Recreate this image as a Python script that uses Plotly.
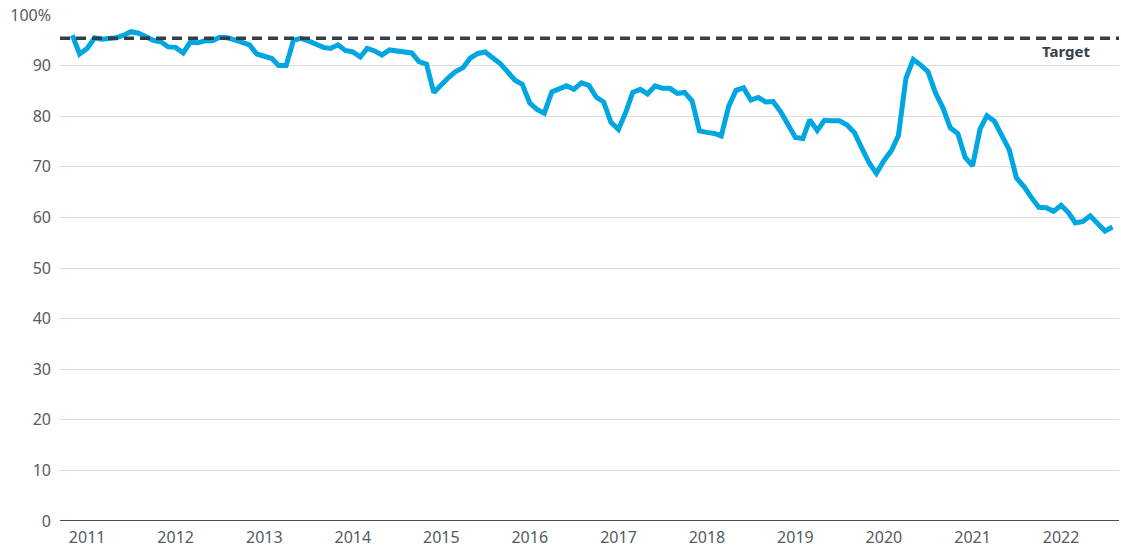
import plotly.graph_objects as go
import pandas as pd

start_month = "2010-11-01"
values = [
    96.0, 92.3, 93.4, 95.5, 95.2, 95.3, 95.5, 96.0, 96.7, 96.4, 95.6, 95.0,
    94.7, 93.7, 93.6, 92.5, 94.6, 94.5, 94.9, 94.9, 95.6, 95.5, 95.1, 94.5,
    94.1, 92.3, 91.9, 91.4, 90.0, 90.0, 95.0, 95.4, 94.9, 94.3, 93.6, 93.4,
    94.1, 93.0, 92.7, 91.7, 93.4, 92.9, 92.1, 93.1, 92.9, 92.9, 92.5, 90.8,
    90.3, 84.7, 86.3, 87.7, 88.8, 89.6, 91.5, 92.4, 92.7, 91.6, 90.4, 88.8,
    87.1, 86.3, 82.6, 81.3, 80.6, 84.8, 85.4, 86.0, 85.3, 86.6, 86.1, 83.8,
    82.8, 78.8, 77.4, 80.9, 84.7, 85.3, 84.4, 86.0, 85.5, 85.5, 84.5, 84.7,
    83.0, 77.1, 76.8, 76.6, 76.1, 82.0, 85.1, 85.6, 83.2, 83.7, 82.8, 82.9,
    80.9, 78.6, 75.8, 75.6, 79.3, 77.2, 79.2, 79.1, 79.1, 78.3, 76.8, 73.8,
    70.8, 68.7, 71.2, 73.2, 76.2, 87.5, 91.2, 90.1, 88.8, 84.6, 81.6, 77.7,
    76.6, 71.9, 70.2, 77.5, 80.1, 79.0, 76.3, 73.4, 67.8, 66.1, 63.9, 62.0,
    61.9, 61.2, 62.4, 60.9, 58.9, 59.2, 60.3, 58.9, 57.3, 58.1,
]
dates = pd.date_range(start_month, periods=len(values), freq="MS")

target_value = 95.4
target_label = "Target"

year_ticks = [f"{y}-01-01" for y in range(2011, 2023)]
year_labels = [str(y) for y in range(2011, 2023)]
y_ticks = list(range(0, 101, 10))
y_labels = [str(v) if v < 100 else "100%" for v in y_ticks]

font_family = "Noto Sans, Open Sans, sans-serif"
tick_color = "#555b61"
dark = "#333f48"

fig = go.Figure()
fig.add_trace(go.Scatter(
    x=dates, y=values, mode="lines",
    line=dict(color="#00a6e0", width=5),
    hoverinfo="skip", showlegend=False,
))

fig.add_shape(type="line", xref="paper", yref="y", x0=0, x1=1,
              y0=target_value, y1=target_value,
              line=dict(color=dark, width=3.5, dash="10px,6px"))

fig.add_annotation(xref="paper", yref="y", x=0.9745, y=92.9,
                   text=f"<b>{target_label}</b>", showarrow=False,
                   xanchor="right", yanchor="middle",
                   font=dict(family=font_family, size=15, color=dark))

fig.update_layout(
    width=1121, height=547,
    margin=dict(l=60, r=2, t=15, b=26),
    plot_bgcolor="white", paper_bgcolor="white",
    font=dict(family=font_family, size=16, color=tick_color),
    xaxis=dict(
        type="date", range=["2010-09-11", "2022-08-28"],
        tickvals=year_ticks, ticktext=year_labels,
        showgrid=False, zeroline=False, showline=False,
        ticks="", automargin=False, ticklabelstandoff=5,
        tickfont=dict(size=16, color=tick_color),
    ),
    yaxis=dict(
        range=[0, 100], tickvals=y_ticks, ticktext=y_labels,
        showgrid=True, gridcolor="#dcdce6", gridwidth=1,
        zeroline=False, showline=False, ticks="",
        automargin=False, ticklabelstandoff=8,
        tickfont=dict(size=16, color=tick_color),
    ),
)

fig.add_shape(type="line", xref="paper", yref="y", x0=0, x1=1, y0=0, y1=0,
              line=dict(color="#4a5058", width=2), layer="above")

fig.write_html("out.html", config={"displayModeBar": False},
               post_script="document.body.style.margin='0';document.body.style.overflow='hidden';")
